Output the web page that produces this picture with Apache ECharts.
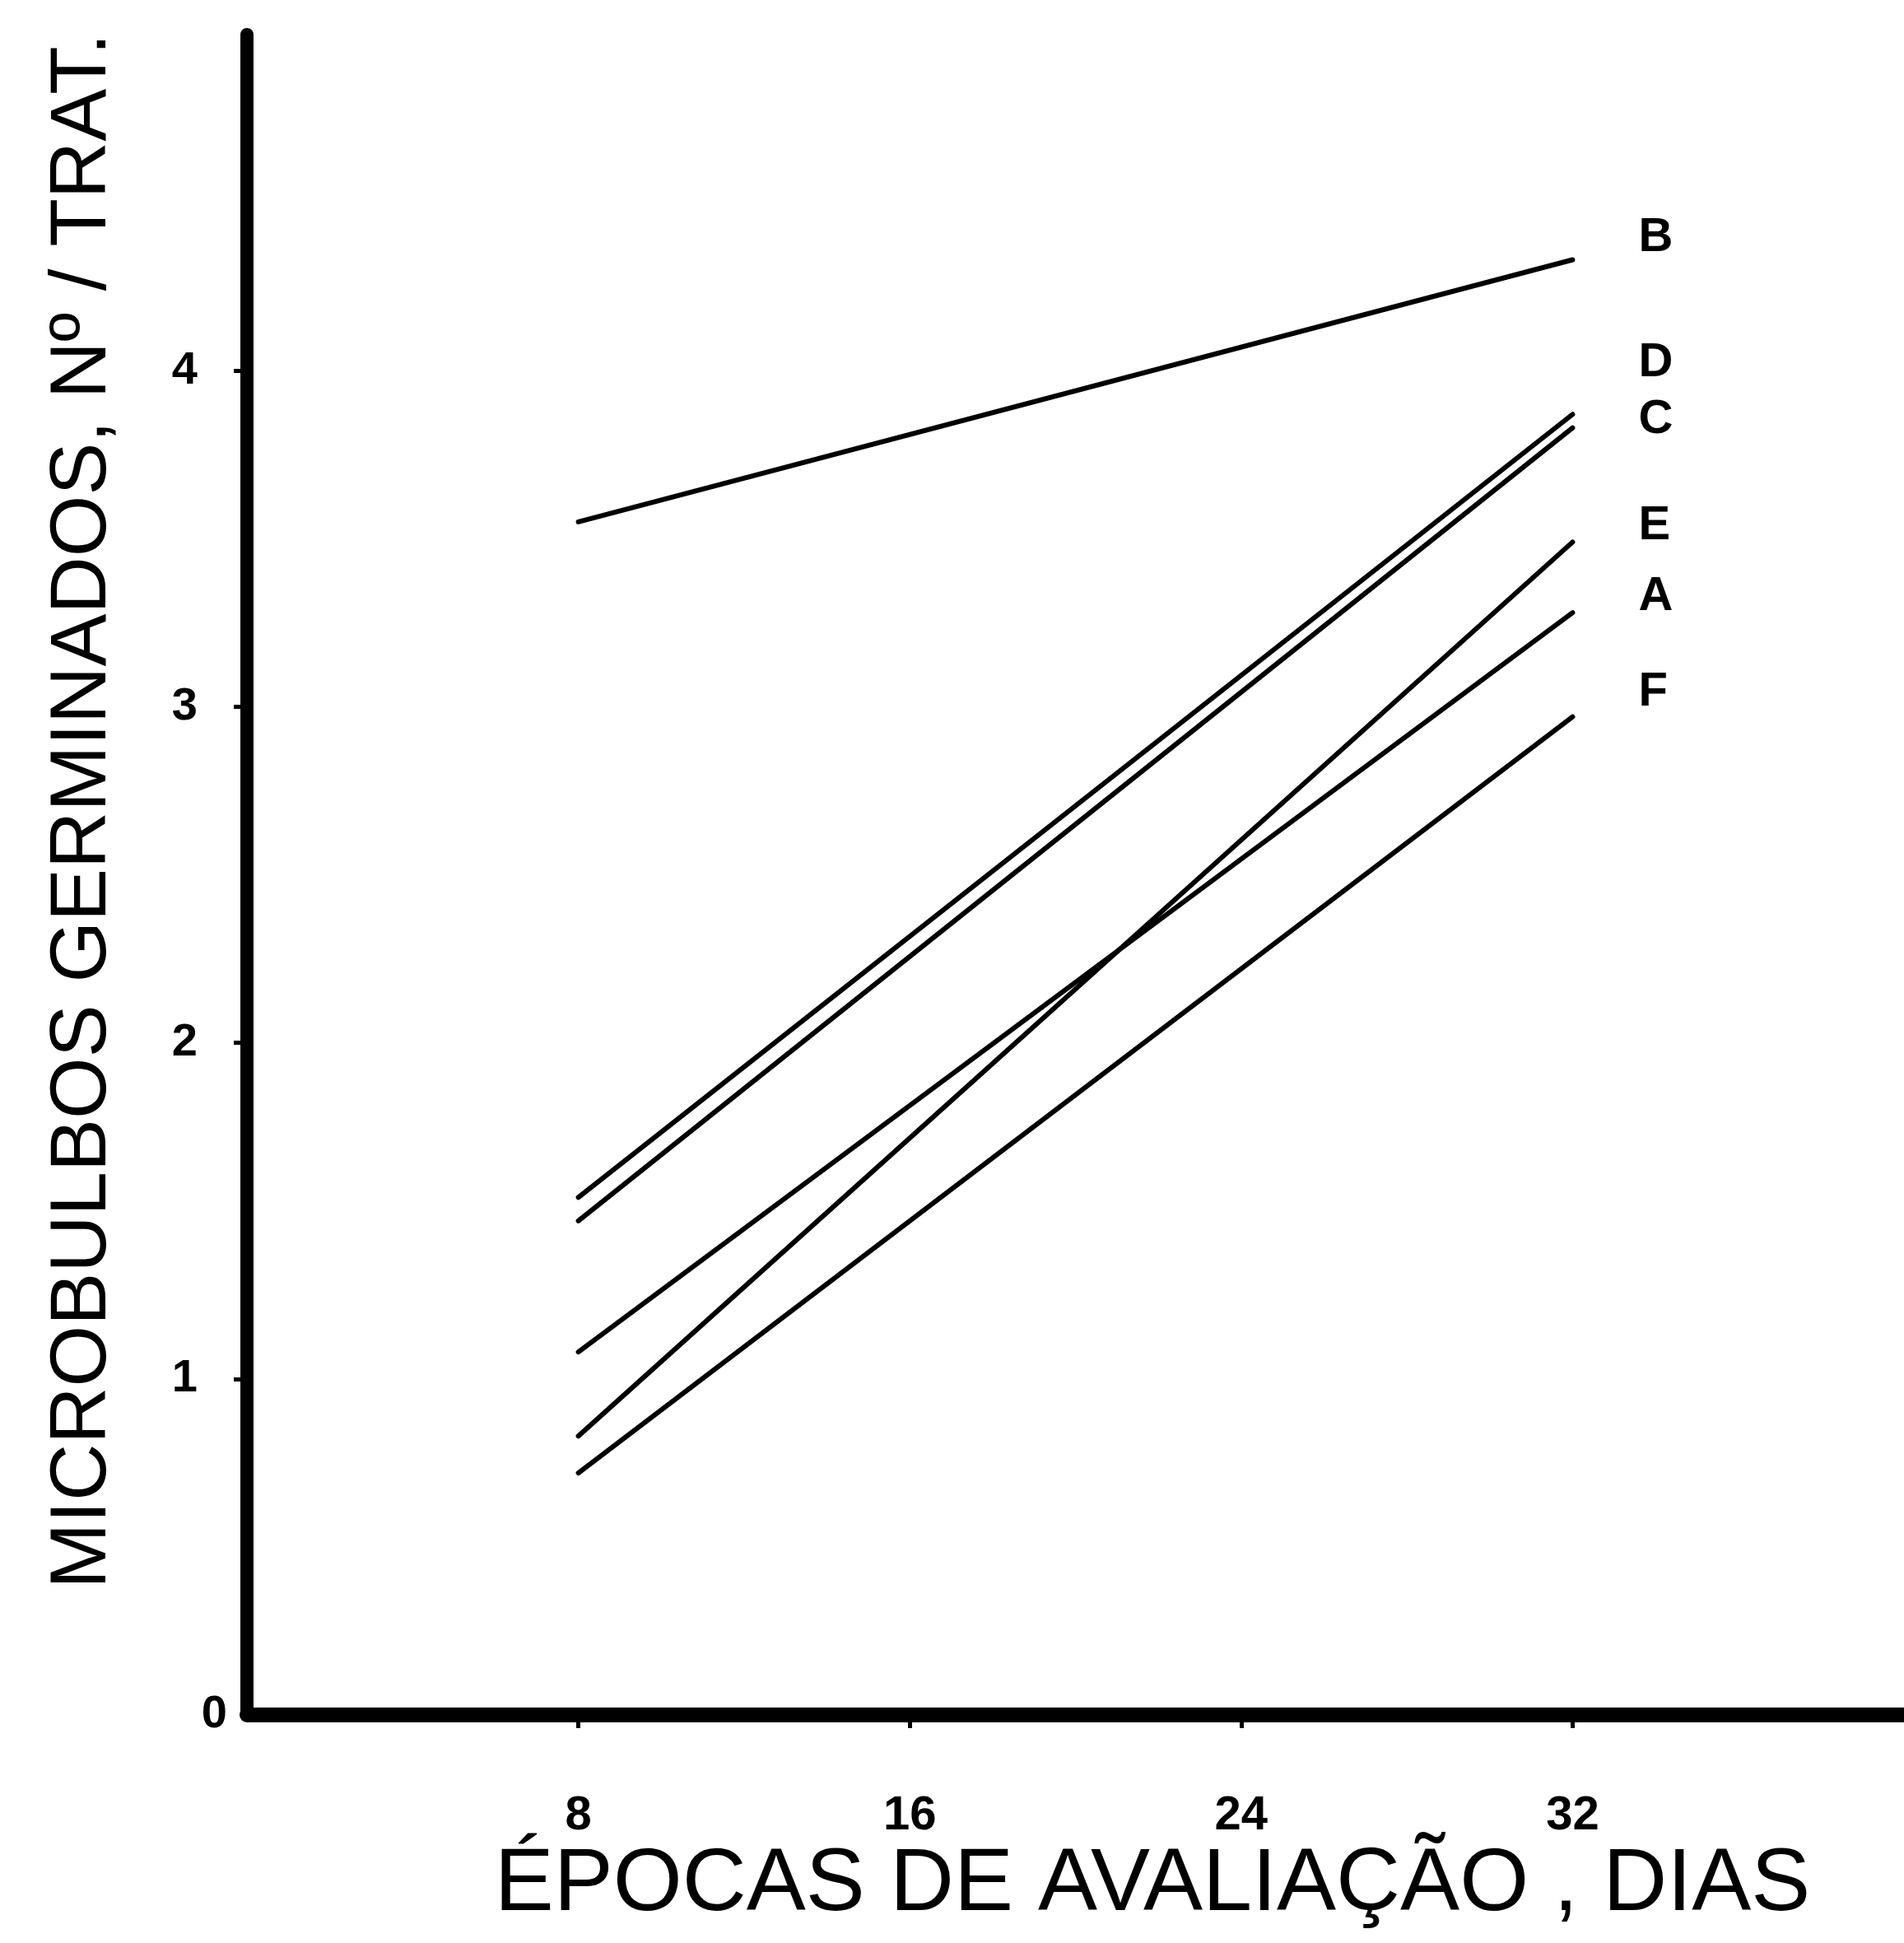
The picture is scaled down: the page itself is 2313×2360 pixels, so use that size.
<!DOCTYPE html>
<html>
<head>
<meta charset="utf-8">
<script src="https://cdn.jsdelivr.net/npm/echarts@6/dist/echarts.min.js"></script>
<style>
html,body{margin:0;padding:0;background:#fff;}
#chart{width:2313px;height:2360px;}
</style>
</head>
<body>
<div id="chart"></div>
<script>
// Data
const days = [8, 32];
const seriesNames = ['B', 'D', 'C', 'E', 'A', 'F'];
const valuesB = [3.55, 4.33];
const valuesD = [1.54, 3.87];
const valuesC = [1.47, 3.83];
const valuesE = [0.83, 3.49];
const valuesA = [1.08, 3.28];
const valuesF = [0.72, 2.97];
const xTicks = [8, 16, 24, 32];
const yTicks = [0, 1, 2, 3, 4];
const yTitle = 'MICROBULBOS GERMINADOS, Nº / TRAT.';
const xTitle = 'ÉPOCAS DE AVALIAÇÃO , DIAS';

const allValues = [valuesB, valuesD, valuesC, valuesE, valuesA, valuesF];
const labelOffsets = [[72, -26], [72, -62], [72, -10], [72, -19], [72, -19], [72, -30]];

const chart = echarts.init(document.getElementById('chart'), null, {renderer: 'canvas'});
const font = '"Liberation Sans", Arial, sans-serif';

const series = seriesNames.map((name, i) => ({
  name: name,
  type: 'line',
  data: days.map((d, j) => [d, allValues[i][j]]),
  symbol: 'none',
  lineStyle: {color: '#000', width: 6, cap: 'round'},
  silent: true,
  endLabel: {
    show: true,
    formatter: name,
    offset: labelOffsets[i],
    color: '#000',
    fontFamily: font,
    fontWeight: 'bold',
    fontSize: 58
  }
}));

chart.setOption({
  animation: false,
  backgroundColor: '#fff',
  grid: {left: 300, width: 2032, top: 42, bottom: 277, containLabel: false},
  xAxis: {
    type: 'value',
    min: 0, max: 40, interval: 8,
    splitLine: {show: false},
    axisLine: {lineStyle: {color: '#000', width: 18}},
    axisTick: {show: true, length: 16, lineStyle: {color: '#000', width: 5}, customValues: xTicks},
    axisLabel: {
      customValues: xTicks,
      margin: 94,
      color: '#000',
      fontFamily: font,
      fontWeight: 'bold',
      fontSize: 58
    }
  },
  yAxis: {
    type: 'value',
    min: 0, max: 5, interval: 1,
    splitLine: {show: false},
    axisLine: {lineStyle: {color: '#000', width: 16, cap: 'round'}},
    axisTick: {show: true, length: 16, lineStyle: {color: '#000', width: 5}, customValues: [1, 2, 3, 4]},
    axisLabel: {
      customValues: yTicks,
      margin: 24,
      color: '#000',
      fontFamily: font,
      fontWeight: 'bold',
      fontSize: 56,
      formatter: function (v) { return v === 0 ? '{z|0}' : '{n|' + v + '}'; },
      rich: {
        z: {fontFamily: font, fontWeight: 'bold', fontSize: 56, color: '#000', padding: [0, 0, 0, 0]},
        n: {fontFamily: font, fontWeight: 'bold', fontSize: 56, color: '#000', padding: [0, 36, 0, 0]}
      }
    }
  },
  graphic: [
    {
      type: 'text',
      x: 102, y: 985,
      rotation: Math.PI / 2,
      style: {
        text: yTitle,
        fill: '#000',
        font: '96px ' + font,
        textAlign: 'center',
        textVerticalAlign: 'middle'
      }
    },
    {
      type: 'text',
      x: 1400, y: 2290,
      style: {
        text: xTitle,
        fill: '#000',
        font: '108px ' + font,
        textAlign: 'center',
        textVerticalAlign: 'middle'
      }
    }
  ],
  series: series
});
</script>
</body>
</html>
